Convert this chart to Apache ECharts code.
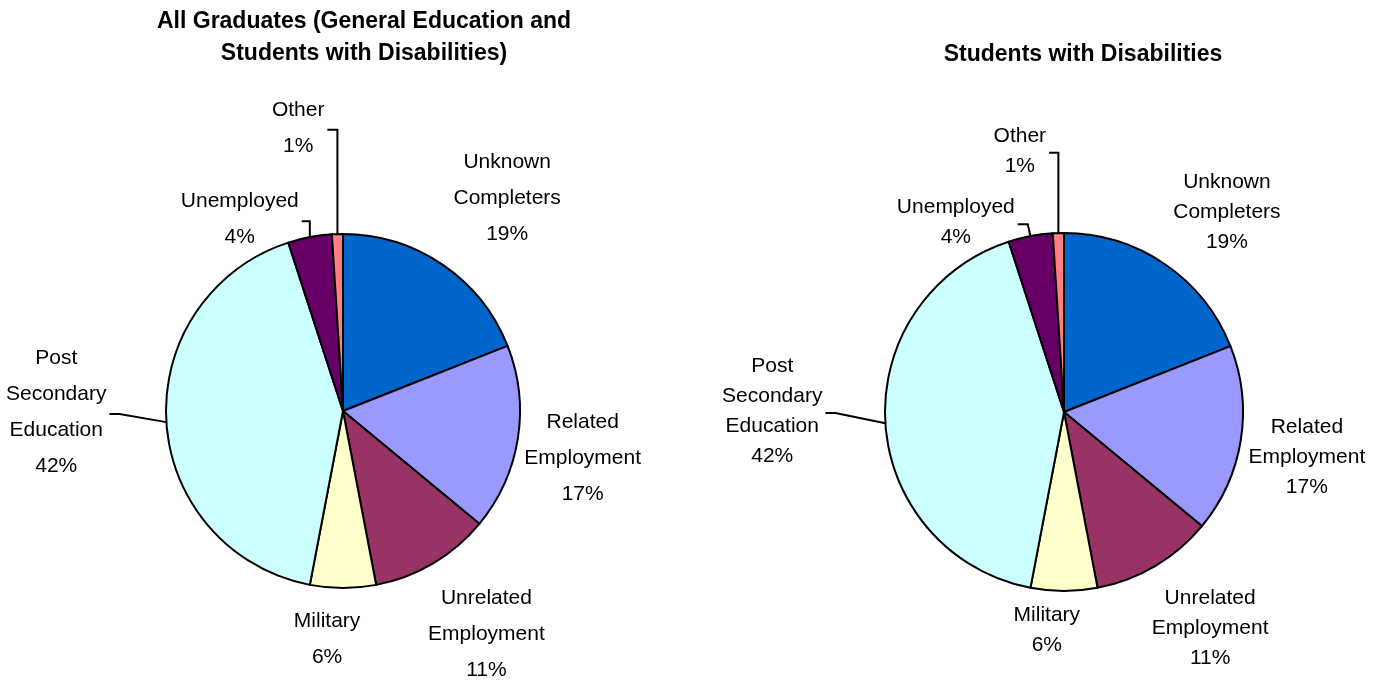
<!DOCTYPE html>
<html>
<head>
<meta charset="utf-8">
<script src="https://cdn.jsdelivr.net/npm/echarts@6/dist/echarts.min.js"></script>
<style>
  html, body { margin: 0; padding: 0; background: #fff; }
  #chart { width: 1382px; height: 680px; }
</style>
</head>
<body>
<div id="chart"></div>
<script>
// Graduate outcomes, percent of completers
const categories = ['Unknown Completers', 'Related Employment', 'Unrelated Employment', 'Military',
                    'Post Secondary Education', 'Unemployed', 'Other'];
const allGraduates = [19, 17, 11, 6, 42, 4, 1];
const disabilities = [19, 17, 11, 6, 42, 4, 1];
const chartTitles = ['All Graduates (General Education and\nStudents with Disabilities)',
                     'Students with Disabilities'];
const leaderLineCategories = ['Post Secondary Education', 'Unemployed', 'Other'];

const sliceColors = ['#0066CC', '#9999FF', '#993366', '#FFFFCC', '#CCFFFF', '#660066', '#FF8080'];
const labelFont = '"Liberation Sans", Arial, sans-serif';
const titleFont = '"Liberation Sans", Arial, sans-serif';

// pie geometry and label text metrics for each chart
const pies = [
  { center: [343, 411], radius: 177, fontSize: 21, lineHeight: 36, titleX: 364, titleY: 6 },
  { center: [1064, 412], radius: 179, fontSize: 21, lineHeight: 30, titleX: 1083, titleY: 39 }
];
// label placement: [angle clockwise from 12 o'clock (deg), distance in radii]
const labelSpots = [
  [[37.6, 1.52], [101.1, 1.38], [147.3, 1.50], [184, 1.29], [269.8, 1.62], [331.7, 1.23], [351, 1.62]],
  [[39.2, 1.44], [100.5, 1.38], [146, 1.46], [184.5, 1.22], [270.2, 1.63], [330.3, 1.22], [350.4, 1.48]]
];

function polar(center, r, rad) {
  return [center[0] + Math.sin(rad) * r, center[1] - Math.cos(rad) * r];
}

function makeLabelLayout(si, values) {
  const p = pies[si];
  const total = values.reduce((a, b) => a + b, 0);
  return function (params) {
    const i = params.dataIndex;
    const spot = labelSpots[si][i];
    const [x, y] = polar(p.center, p.radius * spot[1], spot[0] * Math.PI / 180);
    const out = { x: x, y: y, align: 'center', verticalAlign: 'middle' };
    if (leaderLineCategories.indexOf(categories[i]) >= 0) {
      let before = 0;
      for (let j = 0; j < i; j++) before += values[j];
      const mid = (before + values[i] / 2) / total * 2 * Math.PI;
      const edge = polar(p.center, p.radius, mid);
      const endX = x + params.labelRect.width / 2 + 3;
      const ly = y + 2;
      const elbowX = Math.min(edge[0], endX + 10);
      out.labelLinePoints = [edge, [elbowX, ly], [endX, ly]];
    }
    return out;
  };
}

function buildSeries(si, values) {
  const p = pies[si];
  return {
    type: 'pie',
    center: p.center,
    radius: p.radius,
    startAngle: 90,
    clockwise: true,
    avoidLabelOverlap: false,
    silent: true,
    itemStyle: { borderColor: '#000', borderWidth: 2 },
    label: {
      show: true,
      position: 'outside',
      color: '#000',
      fontFamily: labelFont,
      fontSize: p.fontSize,
      lineHeight: p.lineHeight,
      formatter: (d) => d.name.split(' ').join('\n') + '\n' + d.value + '%'
    },
    labelLine: { show: false, lineStyle: { color: '#000', width: 2 } },
    labelLayout: makeLabelLayout(si, values),
    data: categories.map((name, i) => ({
      name: name,
      value: values[i],
      itemStyle: { color: sliceColors[i] },
      labelLine: { show: leaderLineCategories.indexOf(name) >= 0 }
    }))
  };
}

const chart = echarts.init(document.getElementById('chart'), null, { renderer: 'canvas' });
chart.setOption({
  animation: false,
  backgroundColor: '#fff',
  graphic: chartTitles.map((t, si) => ({
    type: 'text',
    x: pies[si].titleX,
    y: pies[si].titleY,
    style: {
      text: t,
      fill: '#000',
      fontFamily: titleFont,
      fontWeight: 'bold',
      fontSize: 23,
      lineHeight: 32,
      align: 'center',
      verticalAlign: 'top'
    }
  })),
  series: [buildSeries(0, allGraduates), buildSeries(1, disabilities)]
});
</script>
</body>
</html>
